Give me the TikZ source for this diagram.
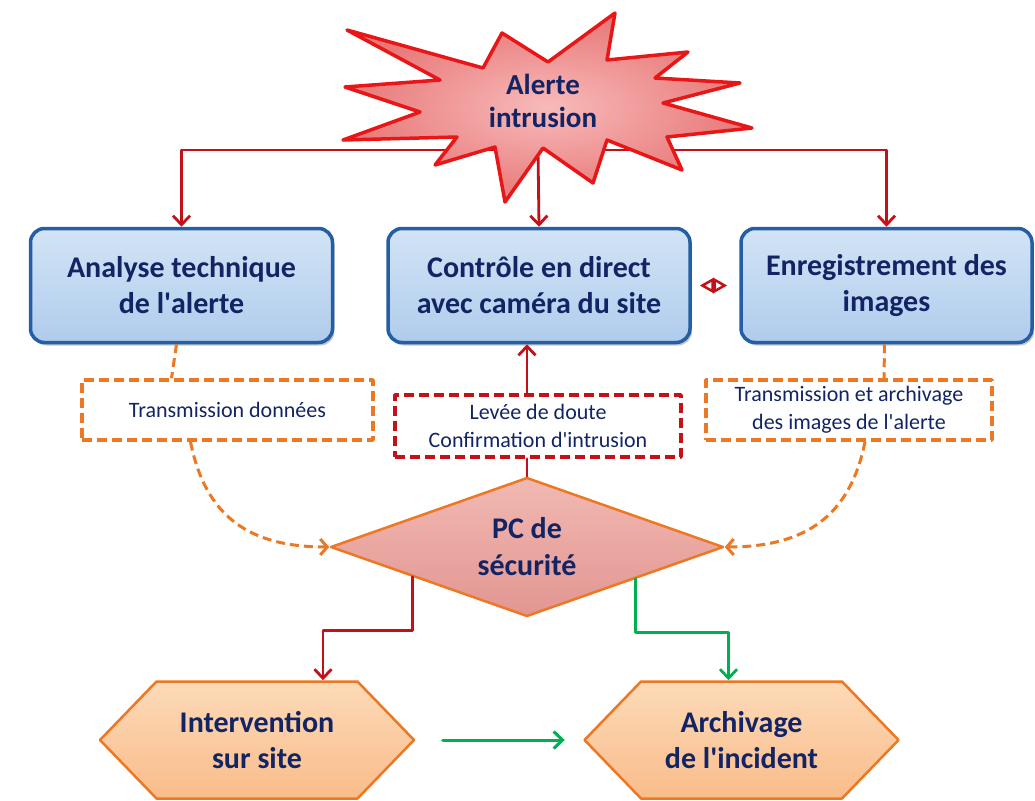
\documentclass[tikz,border=0pt]{standalone}
\usepackage{fontspec}
\setmainfont{Carlito}
\usepackage{tikz}
\usetikzlibrary{arrows.meta}
\usetikzlibrary{shapes.geometric,shapes.symbols}
\usetikzlibrary{shadows,calc}
\definecolor{navy}{RGB}{18,36,100}
\definecolor{dred}{RGB}{196,16,24}
\definecolor{starred}{RGB}{232,22,22}
\definecolor{starin}{RGB}{248,186,186}
\definecolor{starout}{RGB}{232,120,120}
\definecolor{boxblue}{RGB}{36,94,164}
\definecolor{boxtop}{RGB}{210,228,246}
\definecolor{boxbot}{RGB}{176,204,236}
\definecolor{orln}{RGB}{236,120,36}
\definecolor{pctop}{RGB}{242,184,178}
\definecolor{pcbot}{RGB}{226,150,146}
\definecolor{hextop}{RGB}{253,218,184}
\definecolor{hexbot}{RGB}{249,188,138}
\definecolor{grn}{RGB}{0,176,80}

\begin{document}
\begin{tikzpicture}[x=1pt,y=-1pt,line cap=round,line join=round,
    bluebox/.style={draw=boxblue,line width=3.5pt,rounded corners=14pt,top color=boxtop,bottom color=boxbot,
      minimum width=302pt,minimum height=114pt,align=center,text=navy,
      font=\fontsize{30}{36}\selectfont\bfseries,
      drop shadow={shadow xshift=2pt,shadow yshift=-3pt,opacity=0.45}},
    dashbox/.style={line width=3.5pt,dash pattern=on 10pt off 5pt,line cap=butt,align=center,text=navy,
      font=\fontsize{22}{28}\selectfont,minimum height=60pt},
    hexa/.style={signal,signal to=west and east,signal pointer angle=92,draw=orln,line width=2.5pt,
      top color=hextop,bottom color=hexbot,minimum width=314pt,minimum height=117pt,inner sep=0pt,
      align=center,text=navy,font=\fontsize{30}{36}\selectfont\bfseries},
    redarr/.style={draw=dred,line width=2.8pt,-{Straight Barb[length=9pt,width=17pt]}},
    grnarr/.style={draw=grn,line width=3pt,-{Straight Barb[length=9pt,width=17pt]}},
    oradash/.style={draw=orln,line width=3pt,dash pattern=on 9pt off 5pt,line cap=butt}]
  \useasboundingbox (0,0) rectangle (1035,800);

  % boxes
  \node[bluebox] (analyse) at (181.5,285.5) {Analyse technique\\de l\textquotesingle alerte};
  \node[bluebox] (controle) at (539,285.5) {Contrôle en direct\\avec caméra du site};
  \node[bluebox,minimum width=291pt] (enreg) at (886.5,285.5) {Enregistrement des\\images};

  \node[dashbox,draw=orln,minimum width=291pt] (transd) at (227.5,410) {Transmission données};
  \node[dashbox,draw=dred,minimum width=286pt,minimum height=62pt] (levee) at (538,426) {Levée de doute\\Confirmation d\textquotesingle intrusion};
  \node[dashbox,draw=orln,minimum width=286pt] (transi) at (849,410) {Transmission et archivage\\des images de l\textquotesingle alerte};

  \node[diamond,aspect=2.8,draw=orln,line width=2.5pt,top color=pctop,bottom color=pcbot,minimum width=393pt,minimum height=139pt,
    inner sep=0pt,align=center,text=navy,font=\fontsize{30}{37}\selectfont\bfseries] (pc) at (527,547) {PC de\\sécurité};

  \node[hexa] (interv) at (257,740) {Intervention\\sur site};
  \node[hexa] (archiv) at (741.5,740) {Archivage\\de l\textquotesingle incident};

  % alerte
  \coordinate (fork) at (538,150);
  \draw[redarr] (fork) -| (analyse.north);
  \draw[redarr] (fork) -| (enreg.north);
  \draw[redarr] (fork) -- (controle.north);
  \draw[draw=starred,line width=3.5pt,inner color=starin,outer color=starout]
    (347,30) -- (483,68) -- (502,33) -- (548,62) -- (615,13) -- (607,60) -- (688,52) -- (655,78)
    -- (740,83) -- (663,103) -- (752,128) -- (667,137) -- (682,170) -- (607,140) -- (593,183)
    -- (543,148) -- (505,202) -- (495,147) -- (435,165) -- (457,137) -- (343,140) -- (420,112)
    -- (345,87) -- (440,80) -- cycle;
  \node[align=center,text=navy,font=\fontsize{29}{33}\selectfont\bfseries] (alerte) at (543,101) {Alerte\\intrusion};

  \draw[draw=dred,line width=2.5pt,{Triangle[open,length=14pt,width=15pt]}-{Triangle[open,length=14pt,width=15pt]},
    shorten <=8pt,shorten >=12pt] (controle.east) -- (enreg.west);

  % transmissions
  \draw[oradash] ([xshift=-5pt]analyse.south) -- ([xshift=-56pt]transd.north);
  \draw[oradash] ([xshift=-2pt]enreg.south) -- ([xshift=35pt]transi.north);
  \draw[oradash,-{Straight Barb[length=7pt,width=16pt]}] ([xshift=-37pt]transd.south)
    .. controls +(15,75) and +(-80,0) .. (pc.west);
  \draw[oradash,-{Straight Barb[length=7pt,width=16pt]}] ([xshift=16pt]transi.south)
    .. controls +(-15,75) and +(80,0) .. (pc.east);
  \draw[draw=dred,line width=2.8pt] (pc.north) -- (levee.south -| pc.north);
  \draw[redarr] (levee.north -| pc.north) -- (controle.south -| pc.north);

  % suites
  \draw[redarr] ($(pc.west)!0.42!(pc.south)$) -- ++(0,54) -| ([xshift=66pt]interv.north);
  \draw[grnarr,line width=2.8pt] ($(pc.east)!0.45!(pc.south)$) -- ++(0,54) -| ([xshift=-13pt]archiv.north);
  \draw[grnarr,shorten <=27pt,shorten >=18pt] (interv.east) -- (archiv.west);
\end{tikzpicture}
\end{document}
